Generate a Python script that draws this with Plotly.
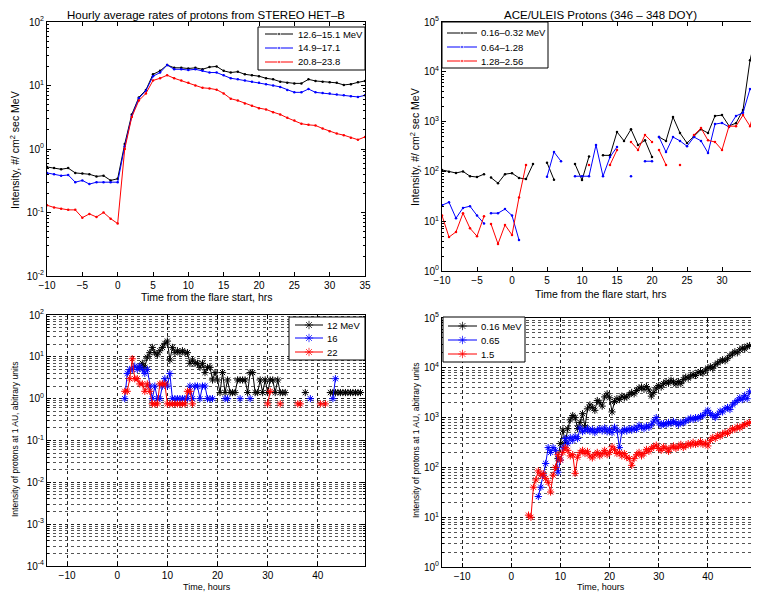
import plotly.graph_objects as go

FONT = "Liberation Sans, Arial, Helvetica, sans-serif"

# ---------------- Panel 1: STEREO HET-B hourly averages ----------------
het_hours = list(range(-10, 36))
het_12_15 = [0.52, 0.50, 0.48, 0.50, 0.42, 0.41, 0.40, 0.37, 0.38, 0.32, 0.34,
             1.2, 3.5, 6.5, 8.5, 15, 17, 21, 19, 19, 18.5,
             19, 18, 19.5, 20, 17, 16, 16.5, 15, 14.5, 14,
             13, 12.5, 11.5, 11, 10.8, 10.8, 12.5, 11.8, 11.5, 11.3,
             11, 10.2, 10.5, 11.2, 11.8]
het_15_17 = [0.42, 0.40, 0.38, 0.39, 0.30, 0.32, 0.28, 0.30, 0.30, 0.30, 0.30,
             1.1, 3.3, 6.3, 8.3, 14, 16, 21, 18, 18, 17.5,
             18, 17, 16, 16, 14.5, 13, 12.5, 12, 11.5, 11,
             10.5, 10, 9.5, 8.5, 7.8, 7.8, 8.8, 7.8, 7.6, 7.5,
             7.2, 7.0, 6.8, 6.6, 7.0]
het_21_24 = [0.13, 0.12, 0.115, 0.11, 0.11, 0.083, 0.095, 0.085, 0.10, 0.08, 0.067,
             1.0, 3.2, 5.8, 7.5, 12, 13, 14.5, 13, 12, 11,
             10, 9.2, 9.0, 8.6, 7.5, 6.2, 5.8, 5.2, 4.8, 4.4,
             4.2, 3.8, 3.5, 3.1, 2.8, 2.5, 2.4, 2.35, 2.1, 1.9,
             1.75, 1.65, 1.5, 1.4, 1.55]
het_names = ["12.6–15.1 MeV", "14.9–17.1", "20.8–23.8"]

# ---------------- Panel 2: ACE/ULEIS protons (None = data gap) ----------------
ace_hours = [-10, -9, -8, -7, -6, -5, -4, -3.5, -3, -2, -1, 0, 1, 2, 3, 4, 5, 6, 7, 8,
             9, 10, 11, 12, 13, 14, 15, 16, 17, 18, 19, 20, 20.5, 21, 22, 23, 24, 25,
             26, 27, 28, 29, 30, 31, 32, 33, 34, 35]
ace_016_032 = [107, 98, 93, 100, 80, 77, 88, None, 75, 58, 88, 92, 74, 70, 140, None, 150, 68, None, None,
               140, 67, 200, None, 210, 210, 620, 410, 700, 340, 420, 195, None, 490, 410, 1230, 590, 370,
               510, 700, 590, 1300, 1350, 820, 930, 1700, 17000, 65000]
ace_064_128 = [21, 24, 11.5, 18.5, 20, 13, 9, None, 14.5, 14.5, 17.5, 13, 4.2, None, None, None, 78, 245, 160, None,
               80, 80, 80, 340, 80, 195, 310, None, 80, None, 160, 160, None, 490, 245, 490, 410, 320,
               490, 410, 235, 890, 940, 780, 1300, 1500, 4500, 6000]
ace_128_256 = [13, 4.8, 6.1, 14.5, 7.2, 5.0, 12.5, None, 8.8, 3.5, 8.4, 5.3, 30, 135, None, None, None, None, None, None,
               None, None, 135, None, None, 135, 270, None, 390, 270, 540, 390, None, 270, 135, None, 135, None,
               540, 740, 420, 390, 270, 810, 810, 1350, 810, 2500]
ace_names = ["0.16–0.32 MeV", "0.64–1.28", "1.28–2.56"]

# ---------------- Panel 3: intensity at 1 AU (high energy) ----------------
bl_t_12 = [4.5, 5, 5.5, 6, 6.5, 7, 7.5, 8, 8.5, 9, 9.5, 10, 10.5, 11, 11.5, 12, 12.5, 13, 13.5, 14,
           14.5, 15, 15.5, 16, 16.5, 17, 17.5, 18, 18.5, 19, 19.5, 20, 20.5, 21, 21.5, 22, 22.5, 23, 23.5, 24,
           24.5, 25, 25.5, 26, 26.5, 27, 27.5, 28, 28.5, 29, 29.5, 30, 30.5, 31, 31.5, 32, 32.5, 33, 33.5,
           35, 37.5, 40,
           42.5, 43, 43.5, 44, 44.5, 45, 45.5, 46, 46.5, 47, 47.5, 48, 48.5]
bl_v_12 = [5.6, 7, 5.6, 9.8, 12.6, 16.8, 12.6, 11.2, 14, 16.8, 21, 23.8, 8.4, 16.8, 12.6, 14, 12.6, 14, 12.6, 12.6,
           7, 8.4, 7, 7, 5.6, 7, 4.2, 5.6, 5.6, 2.8, 4.2, 2.8, 1.4, 4.2, 1.4, 2.8, 1.4, 1.4, 1.4, 2.8,
           2.8, 2.8, 2.8, 1.4, 4.2, 4.2, 1.4, 1.4, 2.8, 1.4, 2.8, 1.4, 2.8, 2.8, 1.4, 2.8, 1.4, 1.4, 1.4,
           None, 1.4, None,
           1.4, 1.4, 1.4, 1.4, 1.4, 1.4, 1.4, 1.4, 1.4, 1.4, 1.4, 1.4, 1.4]
bl_t_16 = [1.5, 2, 2.5, 3, 3.5, 4, 4.5, 5, 5.5, 6, 6.5, 7, 7.5, 8, 8.5, 9, 9.5, 10, 10.5, 11,
           11.5, 12, 12.5, 13, 13.5, 14, 14.5, 15, 15.5, 16, 16.5, 17, 17.5, 18, 18.5, 19,
           20, 21.5, 22, 23, 24.5, 25.5, 26.5, 30, 38.5, 41, 43, 43.5]
bl_v_16 = [1, 4, 5, 5, 6, 5, 6, 5, 4, 5, 2, 1, 2, 1, 1, 2, 3, 2, 4, 1,
           1, 1, 1, 1, 1, 1, 2, 1, 2, 2, 1, 2, 2, 1, 1, 1,
           None, 1, 1, None, 1, None, 1, None, 1, None, 1, 3]
bl_t_22 = [1.5, 2, 2.5, 3, 3.5, 4, 4.5, 5, 5.5, 6, 6.5, 7, 7.5, 8, 8.5, 9, 9.5, 10, 10.5, 11,
           11.5, 12, 12.5, 13, 13.5, 14, 14.5, 15, 22, 30, 30.5, 31.5, 32.5, 34, 36, 36.5, 38, 40.5, 41.5]
bl_v_22 = [1.5, 1.5, 3, 9, 3, 3, 2.25, 2.25, 1.5, 2.25, 1.5, 0.75, 0.75, 0.75, 2.25, 2.25, 2.25, 0.75, 0.75, 0.75,
           0.75, 0.75, 0.75, 0.75, 0.75, 1.5, 1.5, 0.75, None, 0.75, 1.5, None, 0.75, None, 0.75, 0.75, None, 0.75, 0.75]
bl_names = ["12 MeV", "16", "22"]

# ---------------- Panel 4: intensity at 1 AU (low energy) ----------------
br_time = [3.5 + 0.5 * i for i in range(91)]
br_016 = [100, 150, 300, 560, 320, 600, 900, 1100, 1000, 600,
          800, 1200, 650, 1500, 1800, 1600, 1400, 2200, 2000, 1700,
          2600, 3000, 2500, 1300, 2100, 2400, 2300, 2700, 2500, 2600,
          2900, 3200, 3000, 3500, 3900, 4100, 3700, 4200, 3600, 2700,
          3200, 3900, 4400, 4100, 4800, 5200, 4900, 5600, 5200, 4700,
          5300, 4800, 5800, 6500, 6200, 6800, 7400, 7000, 8000, 8400,
          7800, 9000, 9800, 10500, 9800, 11500, 12500, 13500, 14500, 13800,
          15500, 17500, 19000, 21000, 20000, 23000, 25000, 24000, 27000, 28000]
br_065 = [26, 40, 70, 120, 250, 200, 250, 220, 80, 140,
          250, 380, 300, 400, 350, 420, 380, 620, 520, 560,
          600, 530, 580, 500, 560, 600, 540, 620, 520, 580,
          500, 640, 560, 250, 520, 580, 540, 600, 560, 620,
          580, 700, 650, 600, 680, 640, 720, 850, 1000, 780,
          700, 760, 720, 800, 760, 840, 780, 720, 800, 780,
          860, 900, 980, 920, 1000, 960, 1050, 1100, 1250, 1400,
          1200, 1100, 1000, 1150, 1350, 1300, 1500, 1600, 1450, 1800,
          2000, 2200, 2500, 2300, 2800, 2400, 3300]
br_15 = [11, 10, 40, 56, 85, 70, 75, 60, 50, 32,
         70, 100, 180, 140, 200, 250, 220, 170, 180, 76,
         160, 200, 220, 190, 210, 170, 155, 180, 200, 170,
         190, 220, 180, 200, 260, 230, 190, 200, 170, 190,
         160, 150, 110, 150, 180, 200, 170, 190, 230, 210,
         240, 260, 280, 240, 220, 260, 240, 210, 250, 270,
         240, 260, 290, 250, 270, 300, 280, 320, 290, 300,
         330, 290, 310, 270, 350, 400, 380, 440, 420, 470,
         500, 480, 540, 600, 580, 650, 620, 680, 720, 760,
         800]
br_names = ["0.16 MeV", "0.65", "1.5"]

COLORS = ["#000000", "#0000ff", "#ff0000"]

# The page places the figure 8 px in from the window's top-left corner.
OFF = 8
W, H = 759 - OFF, 596 - OFF


def fx(px):
    return (px - OFF) / W


def fy(py):
    return 1 - (py - OFF) / H


fig = go.Figure()


def marker_for(color, star, size=None):
    if star:
        return dict(symbol="asterisk-open", size=size if size is not None else 6, color=color,
                    line=dict(color=color, width=1))
    return dict(symbol="circle", size=size if size is not None else 2.5, color=color)


def add_series(xs, ys, color, xa, ya, star):
    fig.add_trace(go.Scatter(
        x=xs, y=ys, mode="lines+markers", showlegend=False,
        line=dict(color=color, width=1), marker=marker_for(color, star),
        xaxis=xa, yaxis=ya, connectgaps=False))


for vals, c in zip([het_12_15, het_15_17, het_21_24], COLORS):
    add_series(het_hours, vals, c, "x", "y", False)
for vals, c in zip([ace_016_032, ace_064_128, ace_128_256], COLORS):
    add_series(ace_hours, vals, c, "x2", "y2", False)
for xs, vals, c in zip([bl_t_12, bl_t_16, bl_t_22], [bl_v_12, bl_v_16, bl_v_22], COLORS):
    add_series(xs, vals, c, "x3", "y3", True)
for vals, c in zip([br_016, br_065, br_15], COLORS):
    add_series(br_time[-len(vals):], vals, c, "x4", "y4", True)


# ---- legend boxes, drawn on a hidden full-page pixel axis (x5/y5) ----
def legend_box(x0, x1, y0, y1, lx0, lx1, tx, rows, names, star):
    fig.add_trace(go.Scatter(x=[x0, x1, x1, x0, x0], y=[y0, y0, y1, y1, y0], mode="lines",
                             fill="toself", fillcolor="white", line=dict(color="black", width=1),
                             xaxis="x5", yaxis="y5", showlegend=False, hoverinfo="skip"))
    for r, name, c in zip(rows, names, COLORS):
        msize = 7 if star else 3
        fig.add_trace(go.Scatter(x=[lx0, (lx0 + lx1) / 2, lx1], y=[r, r, r], mode="lines+markers",
                                 line=dict(color=c, width=1),
                                 marker=marker_for(c, star, [0, msize, 0]),
                                 xaxis="x5", yaxis="y5", showlegend=False, hoverinfo="skip"))
        fig.add_annotation(text=name, x=fx(tx), y=fy(r), xref="paper", yref="paper",
                           showarrow=False, xanchor="left", yanchor="middle",
                           font=dict(family=FONT, size=9.5, color="black"))


legend_box(258, 365, 27, 70, 265, 293, 296, [34, 48, 62], het_names, False)
legend_box(442, 548, 22, 68, 447, 477, 479, [33, 47, 61], ace_names, False)
legend_box(289, 365, 317, 360, 295, 323, 325, [325, 338, 352], bl_names, True)
legend_box(443, 525, 317, 362, 448, 477, 479, [326, 340, 354], br_names, True)


def pow_labels(lo, hi):
    return [10.0 ** p for p in range(lo, hi + 1)], ["10<sup>%d</sup>" % p for p in range(lo, hi + 1)]


LX = [fx(47), fx(365)]
RX = [fx(442), fx(757)]

tick_font = dict(family=FONT, size=10, color="black")


def xax(domain, anchor, rng, tickvals, grid):
    return dict(domain=domain, anchor=anchor, range=rng, tickmode="array", tickvals=tickvals,
                ticks="inside", ticklen=4, tickcolor="black", showline=True, linecolor="black",
                linewidth=1, mirror="ticks", zeroline=False, ticklabeloverflow="allow",
                showgrid=grid, gridcolor="#222222", griddash="dot", gridwidth=1,
                tickfont=tick_font)


def yax(domain, anchor, lo, hi, grid):
    tv, tt = pow_labels(lo, hi)
    return dict(domain=domain, anchor=anchor, type="log", range=[lo, hi], tickmode="array",
                tickvals=tv, ticktext=tt, ticks="inside", ticklen=4, tickcolor="black",
                showline=True, linecolor="black", linewidth=1, mirror="ticks",
                zeroline=False, showgrid=grid, gridcolor="#222222", griddash="dot", gridwidth=1,
                tickfont=tick_font,
                minor=dict(ticks="inside", ticklen=2, tickcolor="black", dtick="D1",
                           showgrid=grid, gridcolor="#555555", griddash="dot", gridwidth=1))


fig.update_layout(
    width=W, height=H, margin=dict(l=0, r=0, t=0, b=0),
    paper_bgcolor="white", plot_bgcolor="rgba(0,0,0,0)", template="none",
    font=dict(family=FONT, size=10, color="black"), showlegend=False,
    xaxis=xax(LX, "y", [-10, 35], list(range(-10, 36, 5)), False),
    yaxis=yax([fy(276), fy(22)], "x", -2, 2, False),
    xaxis2=xax(RX, "y2", [-10, 35], list(range(-10, 36, 5)), False),
    yaxis2=yax([fy(271), fy(22)], "x2", 0, 5, False),
    xaxis3=xax(LX, "y3", [-14, 49.4], list(range(-10, 41, 10)), True),
    yaxis3=yax([fy(566), fy(315)], "x3", -4, 2, True),
    xaxis4=xax(RX, "y4", [-14.1, 50], list(range(-10, 51, 10)), True),
    yaxis4=yax([fy(567), fy(318)], "x4", 0, 5, True),
    xaxis5=dict(domain=[0, 1], anchor="y5", range=[OFF, 759], visible=False, fixedrange=True),
    yaxis5=dict(domain=[0, 1], anchor="x5", range=[596, OFF], visible=False, fixedrange=True),
)


def ann(text, xpx, ypx, size, angle=0):
    fig.add_annotation(text=text, x=fx(xpx), y=fy(ypx), xref="paper", yref="paper",
                       showarrow=False, textangle=angle, xanchor="center", yanchor="middle",
                       font=dict(family=FONT, size=size, color="black"))


ann("Hourly average rates of protons from STEREO HET–B", 206, 15, 11.5)
ann("ACE/ULEIS Protons (346 – 348 DOY)", 600, 15, 11.5)
ann("Time from the flare start, hrs", 206, 297, 10.5)
ann("Time from the flare start, hrs", 600, 294, 10.5)
ann("Intensity, #/ cm<sup>2</sup> sec MeV", 15, 150, 10.5, -90)
ann("Intensity, #/ cm<sup>2</sup> sec MeV", 414, 147, 10.5, -90)
ann("Intensity of protons at 1 AU, abitrary units", 15, 440, 8.5, -90)
ann("Intensity of protons at 1 AU, abitrary units", 416, 441, 8.5, -90)
ann("Time, hours", 207, 587, 9)
ann("Time, hours", 601, 587, 9)

fig.write_html("out.html")
